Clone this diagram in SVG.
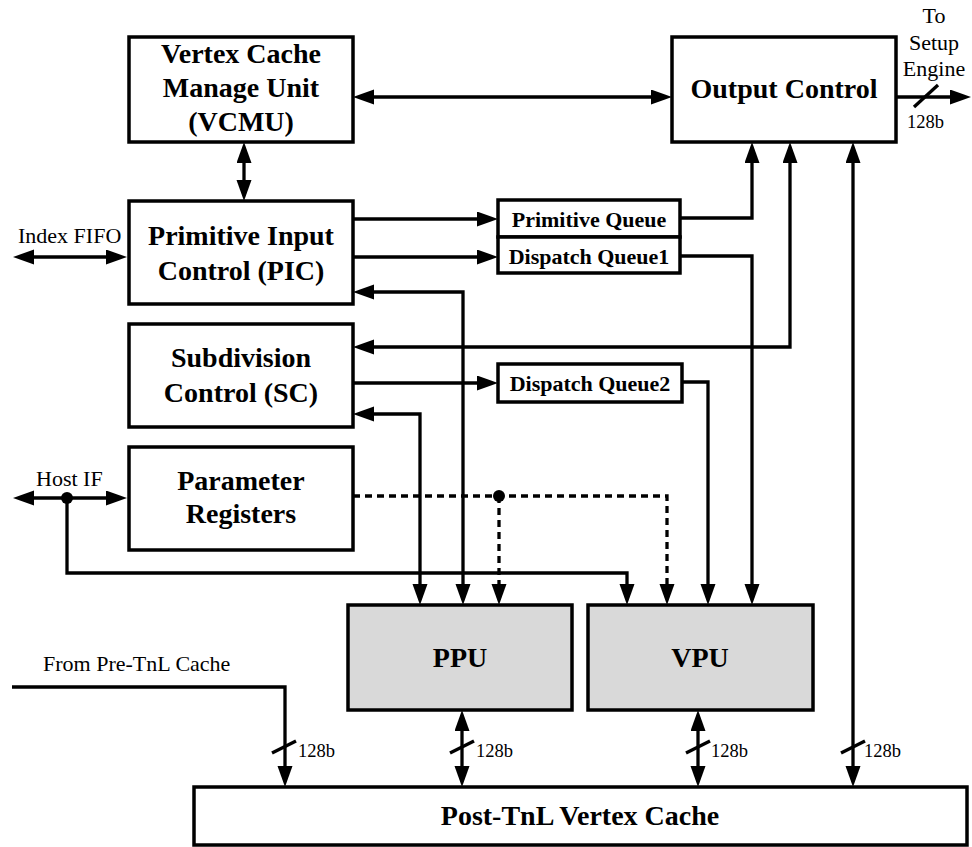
<svg xmlns="http://www.w3.org/2000/svg" width="972" height="847" viewBox="0 0 972 847">
<defs>
<marker id="ah" markerUnits="userSpaceOnUse" markerWidth="22" markerHeight="16" refX="11" refY="7.5" orient="auto-start-reverse">
<path d="M0,0 L21,7.5 L0,15 z" fill="#000"/>
</marker>
<style>
.box{fill:#fff;stroke:#000;stroke-width:3.5}
.gbox{fill:#d9d9d9;stroke:#000;stroke-width:3.5}
.big{font-family:"Liberation Serif","Times New Roman",serif;font-weight:bold;font-size:28px;text-anchor:middle}
.mid{font-family:"Liberation Serif","Times New Roman",serif;font-weight:bold;font-size:22px;text-anchor:middle}
.lbl{font-family:"Liberation Serif","Times New Roman",serif;font-size:22px}
.sm{font-family:"Liberation Serif","Times New Roman",serif;font-size:18.5px}
.ln{fill:none;stroke:#000;stroke-width:3.3}
.e{marker-end:url(#ah)}
.b{marker-start:url(#ah);marker-end:url(#ah)}
.dash{stroke-dasharray:7,5}
</style>
</defs>
<rect width="972" height="847" fill="#fff"/>
<g id="connectors">
<path class="ln b" d="M244,152 V191"/>
<path class="ln b" d="M363,97 H662"/>
<path class="ln e" d="M896,97 H961"/>
<path class="ln" d="M914,107 L938,85"/>
<path class="ln b" d="M23,257 H117"/>
<path class="ln e" d="M353,219 H488"/>
<path class="ln e" d="M353,257 H488"/>
<path class="ln e" d="M680,218 H752 V152"/>
<path class="ln e" d="M680,256 H752 V595"/>
<path class="ln b" d="M790,152 V347 H363"/>
<path class="ln b" d="M363,292 H463 V595"/>
<path class="ln e" d="M353,383 H488"/>
<path class="ln e" d="M682,382 H708 V595"/>
<path class="ln b" d="M363,414 H420 V595"/>
<path class="ln b" d="M23,498 H117"/>
<path class="ln e" d="M67,498 V573 H627 V595"/>
<circle cx="67" cy="498" r="6" fill="#000"/>
<path class="ln e dash" d="M353,496 H667 V595"/>
<path class="ln e dash" d="M499,496 V595"/>
<circle cx="499" cy="496" r="6" fill="#000"/>
<path class="ln b" d="M853,152 V777"/>
<path class="ln e" d="M12,687 H285 V777"/>
<path class="ln b" d="M462,720 V777"/>
<path class="ln b" d="M698,720 V777"/>
<path class="ln" d="M272,753 L296,741"/>
<path class="ln" d="M450,753 L474,741"/>
<path class="ln" d="M686,753 L710,741"/>
<path class="ln" d="M841,753 L865,741"/>
<text class="sm" x="907" y="128">128b</text>
<text class="sm" x="298" y="757">128b</text>
<text class="sm" x="476" y="757">128b</text>
<text class="sm" x="711" y="757">128b</text>
<text class="sm" x="864" y="757">128b</text>
<text class="lbl" x="18" y="243">Index FIFO</text>
<text class="lbl" x="36" y="486">Host IF</text>
<text class="lbl" x="43" y="671">From Pre-TnL Cache</text>
<text class="lbl" x="934" y="23" text-anchor="middle">To</text>
<text class="lbl" x="934" y="50" text-anchor="middle">Setup</text>
<text class="lbl" x="934" y="76" text-anchor="middle">Engine</text>
</g>
<g id="vcmu">
<rect class="box" x="129" y="37" width="224" height="105"/>
<text class="big" x="241" y="63">Vertex Cache</text>
<text class="big" x="241" y="97">Manage Unit</text>
<text class="big" x="241" y="131">(VCMU)</text>
</g>
<g id="output-control">
<rect class="box" x="672" y="37" width="224" height="105"/>
<text class="big" x="784" y="98">Output Control</text>
</g>
<g id="pic">
<rect class="box" x="129" y="201" width="224" height="103"/>
<text class="big" x="241" y="245">Primitive Input</text>
<text class="big" x="241" y="280">Control (PIC)</text>
</g>
<g id="primitive-queue">
<rect class="box" x="498" y="200" width="182" height="37"/>
<text class="mid" x="589" y="227">Primitive Queue</text>
</g>
<g id="dispatch-queue1">
<rect class="box" x="498" y="237" width="182" height="36"/>
<text class="mid" x="589" y="264">Dispatch Queue1</text>
</g>
<g id="sc">
<rect class="box" x="129" y="324" width="224" height="103"/>
<text class="big" x="241" y="367">Subdivision</text>
<text class="big" x="241" y="402">Control (SC)</text>
</g>
<g id="dispatch-queue2">
<rect class="box" x="498" y="364" width="184" height="38"/>
<text class="mid" x="590" y="391">Dispatch Queue2</text>
</g>
<g id="param-regs">
<rect class="box" x="129" y="447" width="224" height="103"/>
<text class="big" x="241" y="490">Parameter</text>
<text class="big" x="241" y="523">Registers</text>
</g>
<g id="ppu">
<rect class="gbox" x="348" y="605" width="224" height="105"/>
<text class="big" x="460" y="667">PPU</text>
</g>
<g id="vpu">
<rect class="gbox" x="588" y="605" width="225" height="105"/>
<text class="big" x="700" y="667">VPU</text>
</g>
<g id="post-tnl">
<rect class="box" x="194" y="787" width="773" height="58"/>
<text class="big" x="580" y="825">Post-TnL Vertex Cache</text>
</g>
</svg>
